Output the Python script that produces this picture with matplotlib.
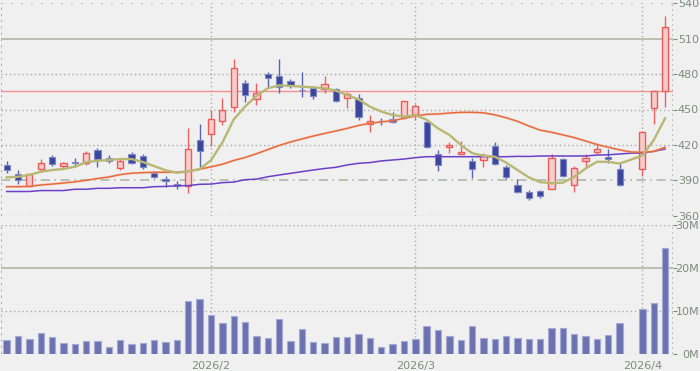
import numpy as np
import matplotlib
matplotlib.use("Agg")
import matplotlib.pyplot as plt

# ---------------- data ----------------
open_ = [403, 395, 385.5, 399.5, 409.5, 402, 405.3, 404.5, 415.5, 409,
         400, 412, 410.5, 396, 391.5, 387, 385, 424, 429, 440.5,
         452.5, 472.5, 459, 480, 478.5, 474.5, 466.7, 468, 467, 467.5,
         459.5, 459.5, 438, 440.5, 442, 444, 446, 439, 412, 418,
         412, 406.5, 407, 419.3, 401.5, 386, 380, 381, 382.7, 408,
         386, 406.6, 414, 410, 399.3, np.nan, 399.6, 451.5, 465.7]
high = [406, 399, 395.5, 408, 411.5, 405.5, 408.5, 415, 417, 411.5,
        408, 414, 412, 398, 393.5, 389, 434, 438, 449.5, 460,
        492.5, 475, 472.5, 482, 493, 476, 482, 470, 478, 468,
        465, 463.5, 445, 443, 447.5, 457.2, 455, 440, 415.7, 422.7,
        423.5, 408.5, 413, 422.7, 403, 391, 382, 382, 412, 408.5,
        402.5, 412.3, 422, 416.5, 405.8, np.nan, 431.5, 465.7, 529]
low = [396, 387, 385, 397, 402, 400, 401, 403, 401.5, 404.5,
       399, 404, 400, 392, 384.5, 383, 379, 401.5, 419, 437,
       448, 456.5, 454, 469, 464, 468, 460.5, 458.6, 463.7, 456,
       451.5, 441.5, 431, 437, 438.5, 442, 441, 417, 398, 413.5,
       412, 391.7, 401.5, 403, 391, 379, 373.3, 375, 382.5, 393,
       380.3, 400.7, 412.3, 404.5, 385.5, np.nan, 394, 437.5, 452]
close = [399, 390, 395, 405, 403.5, 405, 404.8, 413, 408, 406,
         406, 405, 401.5, 393, 389.5, 385, 416.5, 415, 441.7, 449.5,
         485, 462.5, 464, 477, 469, 469.5, 466.3, 461.5, 471.5, 457,
         463, 443.5, 440.5, 440, 439.5, 457, 453, 418.5, 403, 420,
         414, 399.5, 411.5, 404, 393, 380, 375, 376.7, 409, 393.7,
         400, 409, 416.3, 408, 386, np.nan, 431.2, 465.7, 519.7]
volume_m = [3.3, 4.2, 3.5, 4.9, 4.0, 2.6, 2.4, 3.1, 3.1, 1.8,
            3.3, 2.5, 2.6, 3.3, 2.8, 3.3, 12.3, 12.8, 9.1, 7.2,
            8.8, 7.4, 4.2, 3.8, 8.2, 3.1, 5.8, 2.8, 2.6, 4.0,
            4.0, 4.6, 3.8, 1.8, 2.5, 3.1, 3.5, 6.5, 5.7, 4.2,
            3.3, 6.5, 3.8, 3.5, 4.2, 3.8, 3.5, 3.5, 6.2, 6.1,
            4.6, 4.2, 3.5, 4.4, 7.2, np.nan, 10.4, 11.8, 24.7]
ma_short = [392.5, 393, 394.5, 397.3, 398.7, 399.6, 401.5, 405.3, 406.5, 407.2,
            408, 408, 405.5, 402, 398.5, 396.4, 397.7, 399.5, 407, 422,
            441.5, 452.5, 461.5, 468, 470.5, 470, 469.3, 468.8, 468, 466,
            462.3, 458.5, 452.4, 448.3, 445.3, 444, 445.3, 441.3, 434, 428.5,
            420, 413, 410.8, 410, 405, 398.7, 392.5, 388.5, 387.5, 388,
            393, 400, 405.7, 405.6, 404.2, 407.5, 411, 424, 442.5]
ma_mid = [384.6, 384.6, 384.8, 386, 386.8, 387.7, 388.7, 390, 391.5, 392.8,
          394.8, 396, 396.5, 396.8, 396.8, 396.8, 397.5, 399.4, 401.4, 403.6,
          406.8, 409.3, 412.5, 416, 419.5, 422.5, 425, 427.5, 429.7, 431.8,
          434, 436.5, 438.3, 439.5, 440.5, 442.5, 444.5, 445.9, 446.2, 447,
          447.6, 447.6, 447.2, 445.5, 443, 440, 436, 432.5, 430.7, 428.5,
          426.2, 423.3, 420.3, 418, 415.8, 414, 413.7, 414.5, 418]
ma_long = [380.5, 380.5, 380.5, 381.3, 381.3, 381.3, 382.4, 382.4, 383.2, 383.2,
           383.7, 383.7, 383.7, 384.6, 384.8, 385.4, 385.5, 386.6, 386.8, 388,
           388.5, 390.5, 391, 393, 394.5, 395.9, 397.3, 398.7, 400, 401,
           403, 404.4, 405, 406.4, 407.2, 408, 409.2, 410, 410, 410,
           410, 410, 410, 410, 410, 410.3, 410.2, 410.6, 410.6, 410.6,
           410.6, 410.6, 411.4, 411.6, 412.3, 413, 413, 414.5, 416.5]
ref_line = 465.7
month_pos = [18, 36, 56]
month_labels = ["2026/2", "2026/3", "2026/4"]
price_ticks = [360, 390, 420, 450, 480, 510, 540]
vol_ticks = [0, 10, 20, 30]
vol_labels = ["0M", "10M", "20M", "30M"]

# ---------------- figure ----------------
BG = "#f0f0f0"
GRID = "#a8aea8"
TXT = "#7d8d7d"
W, H = 700, 371
fig = plt.figure(figsize=(W / 100, H / 100), dpi=100, facecolor=BG)
ax1 = fig.add_axes([1 / W, 1 - 215.7 / H, 672 / W, 212.4 / H], facecolor=BG)
ax2 = fig.add_axes([1 / W, 1 - 354.3 / H, 672 / W, 129.3 / H], facecolor=BG)

n = len(close)
x = np.arange(n)
o = np.array(open_, float); c = np.array(close, float)
hi = np.array(high, float); lo = np.array(low, float)
up = c >= o
dn = c < o

fontfam = ["Liberation Sans Narrow", "DejaVu Sans"]

for ax in (ax1, ax2):
    ax.set_xlim(-0.5, 58.7)
    for s in ax.spines.values():
        s.set_visible(False)
    for m in month_pos:
        ax.axvline(m, color=GRID, lw=1, ls=(0, (1, 2)), zorder=1)
    ax.axvline(-0.5, color=GRID, lw=1.5, ls=(0, (1, 2)), zorder=1)
    ax.axvline(58.7, color=GRID, lw=1.2, ls=(0, (1, 2)), zorder=1)

# price panel grid
ax1.set_ylim(360, 540)
for p in price_ticks:
    if p == 510:
        ax1.axhline(p, color="#b4bcac", lw=1.3, zorder=1)
    elif p == 390:
        ax1.axhline(p, color="#aab2a2", lw=1.1, ls=(0, (6, 3, 1, 3)), zorder=1)
    elif p == 540:
        ax1.axhline(p, color=GRID, lw=1.2, ls=(0, (1, 5)), zorder=1)
    else:
        ax1.axhline(p, color=GRID, lw=1, ls=(0, (1, 2)), zorder=1)
ax1.axhline(ref_line, color="#f29090", lw=1, zorder=2)

# wicks
ax1.vlines(x[up], lo[up], hi[up], color="#f06262", lw=1, zorder=3)
ax1.vlines(x[dn], lo[dn], hi[dn], color="#5a64b4", lw=1, zorder=3)
# bodies
bw = 0.55
h_body = np.maximum(np.abs(c - o), 0.6)
ax1.bar(x[up], h_body[up], bottom=o[up], width=bw, color="#f9cccc",
        edgecolor="#ee5a5a", lw=1, zorder=4)
ax1.bar(x[dn], h_body[dn], bottom=c[dn], width=bw, color="#3b479c",
        edgecolor="#7f88c4", lw=0.8, zorder=4)

# moving averages
ax1.plot(x, ma_long, color="#6a40c8", lw=1.1, zorder=5)
ax1.plot(x, ma_mid, color="#f2a890", lw=1.8, zorder=5, alpha=0.5)
ax1.plot(x, ma_mid, color="#e8683a", lw=1.0, zorder=5)
ax1.plot(x, ma_short, color="#b8b874", lw=1.7, zorder=6)

ax1.set_xticks([])
ax1.yaxis.tick_right()
ax1.set_yticks(price_ticks)
ax1.set_yticklabels([str(p) for p in price_ticks])
ax1.tick_params(axis="y", direction="out", length=3, width=0.8, color=TXT,
                labelcolor=TXT, labelsize=8, pad=15.7)
for lbl in ax1.get_yticklabels():
    lbl.set_horizontalalignment("right")
    lbl.set_family(fontfam)

# volume panel
vol = np.array(volume_m, float)
ax2.set_ylim(0, 30)
for v in vol_ticks:
    if v == 20:
        ax2.axhline(v, color="#b4bcac", lw=1.3, zorder=1)
    else:
        ax2.axhline(v, color=GRID, lw=1, ls=(0, (1, 2)), zorder=1)
ok = ~np.isnan(vol)
ax2.bar(x[ok], vol[ok], width=0.56, color="#6c72b0", edgecolor="#a6aad6",
        lw=0.8, zorder=3)
ax2.yaxis.tick_right()
ax2.set_yticks(vol_ticks)
ax2.set_yticklabels(vol_labels)
ax2.tick_params(axis="y", direction="out", length=3, width=0.8, color=TXT,
                labelcolor=TXT, labelsize=8, pad=15.7)
for lbl in ax2.get_yticklabels():
    lbl.set_horizontalalignment("right")
    lbl.set_family(fontfam)
ax2.set_xticks(month_pos)
ax2.set_xticklabels(month_labels)
ax2.tick_params(axis="x", length=0, labelcolor=TXT, labelsize=8, pad=4.5)
for lbl in ax2.get_xticklabels():
    lbl.set_family(fontfam)

fig.savefig("out.png", dpi=100, facecolor=BG)
